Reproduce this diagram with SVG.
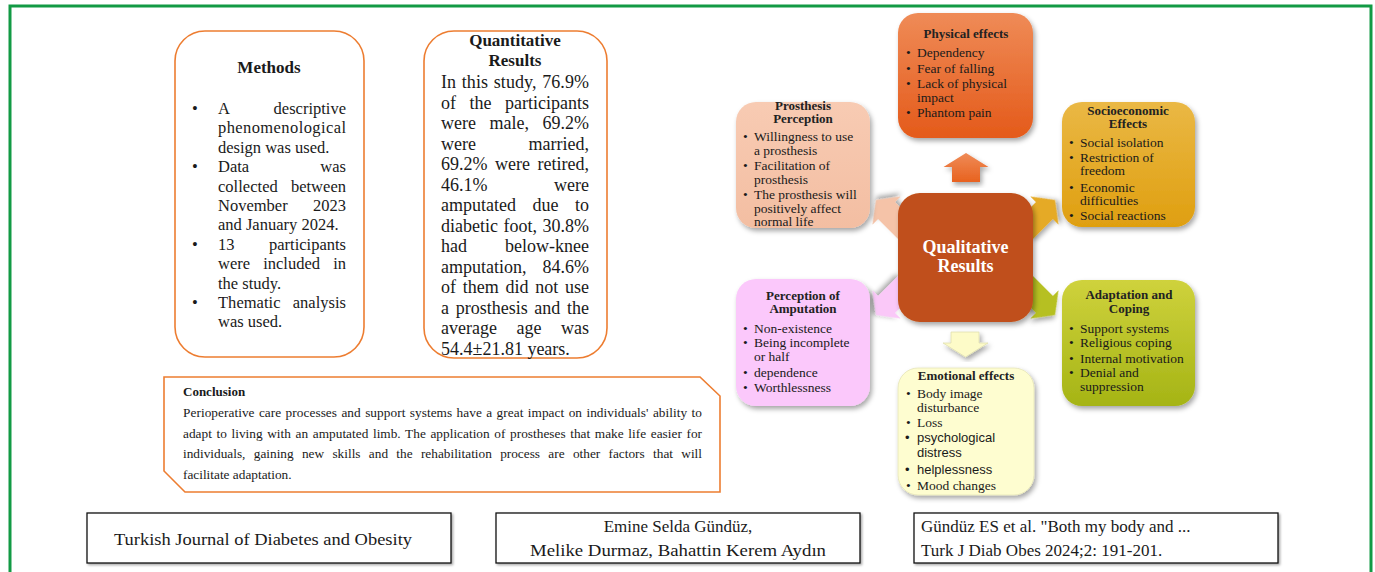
<svg xmlns="http://www.w3.org/2000/svg" width="1375" height="572" viewBox="0 0 1375 572">
<defs>
<style>
.serif{font-family:"Liberation Serif","Times New Roman",serif;fill:#1a1a1a}
.sans{font-family:"Liberation Sans",Arial,sans-serif;fill:#1a1a1a}
.m{font-size:16.5px}
.q{font-size:18px}
.qt{font-size:17px;font-weight:bold;text-anchor:middle}
.c{font-size:13.3px}
.ct{font-size:13px;font-weight:bold}
.bt{font-size:13px;font-weight:bold;text-anchor:middle;fill:#222}
.b{font-size:13.5px}
.bs{font-size:13px}
.ob{fill:#fff;stroke:#ed7d31;stroke-width:1.6}
.ft{font-size:17px}
.fbox{fill:#fff;stroke:#111;stroke-width:1.3}
</style>
<filter id="sh" x="-20%" y="-20%" width="140%" height="140%">
<feDropShadow dx="2" dy="3" stdDeviation="2.5" flood-color="#000" flood-opacity="0.35"/>
</filter>
<filter id="sh2" x="-5%" y="-20%" width="110%" height="140%">
<feDropShadow dx="1.5" dy="1.5" stdDeviation="1" flood-color="#000" flood-opacity="0.35"/>
</filter>
<linearGradient id="gPhys" x1="0" y1="0" x2="0" y2="1"><stop offset="0" stop-color="#ef8b57"/><stop offset="1" stop-color="#e45a1a"/></linearGradient>
<linearGradient id="gPros" x1="0" y1="0" x2="0" y2="1"><stop offset="0" stop-color="#f8cbb3"/><stop offset="1" stop-color="#f3bea2"/></linearGradient>
<linearGradient id="gSoc" x1="0" y1="0" x2="0" y2="1"><stop offset="0" stop-color="#eab845"/><stop offset="1" stop-color="#df9f10"/></linearGradient>
<linearGradient id="gAd" x1="0" y1="0" x2="0" y2="1"><stop offset="0" stop-color="#cfd23c"/><stop offset="1" stop-color="#a5b415"/></linearGradient>
<linearGradient id="gUp" x1="0" y1="0" x2="0" y2="1"><stop offset="0" stop-color="#ef8b57"/><stop offset="1" stop-color="#e8621f"/></linearGradient>
<path id="darr" d="M0,0 L-15,-20 L-15,-12 L-45,-12 L-45,12 L-15,12 L-15,20 Z"/>
</defs>

<rect x="10" y="6" width="1361" height="600" fill="#fff" stroke="#129a44" stroke-width="3"/>

<g id="methods">
<rect class="ob" x="175" y="31" width="189" height="326" rx="30"/>
<text class="serif qt" x="269" y="73">Methods</text>
<g class="serif m">
<text x="192" y="114">•</text>
<text x="218" y="114">A</text><text x="346" y="114" text-anchor="end">descriptive</text>
<text x="218" y="133.4" textLength="128" lengthAdjust="spacing">phenomenological</text>
<text x="218" y="152.8">design was used.</text>
<text x="192" y="172.2">•</text>
<text x="218" y="172.2">Data</text><text x="346" y="172.2" text-anchor="end">was</text>
<text x="218" y="191.6" word-spacing="9" textLength="128" lengthAdjust="spacing">collected between</text>
<text x="218" y="211">November</text><text x="346" y="211" text-anchor="end">2023</text>
<text x="218" y="230.4">and January 2024.</text>
<text x="192" y="249.8">•</text>
<text x="218" y="249.8">13</text><text x="346" y="249.8" text-anchor="end">participants</text>
<text x="218" y="269.2" word-spacing="9" textLength="128" lengthAdjust="spacing">were included in</text>
<text x="218" y="288.6">the study.</text>
<text x="192" y="308">•</text>
<text x="218" y="308" word-spacing="8" textLength="128" lengthAdjust="spacing">Thematic analysis</text>
<text x="218" y="327.4">was used.</text>
</g>
</g>

<g id="quantitative">
<rect class="ob" x="424" y="31" width="183" height="327" rx="30"/>
<text class="serif qt" x="515" y="46">Quantitative</text>
<text class="serif qt" x="515" y="66">Results</text>
<g class="serif q">
<text x="441" y="88" word-spacing="1" textLength="148" lengthAdjust="spacing">In this study, 76.9%</text>
<text x="441" y="108.5" word-spacing="9" textLength="148" lengthAdjust="spacing">of the participants</text>
<text x="441" y="129" word-spacing="9" textLength="148" lengthAdjust="spacing">were male, 69.2%</text>
<text x="441" y="149.5">were</text><text x="589" y="149.5" text-anchor="end">married,</text>
<text x="441" y="170" word-spacing="3" textLength="148" lengthAdjust="spacing">69.2% were retired,</text>
<text x="441" y="190.5">46.1%</text><text x="589" y="190.5" text-anchor="end">were</text>
<text x="441" y="211" word-spacing="12" textLength="148" lengthAdjust="spacing">amputated due to</text>
<text x="441" y="231.5" word-spacing="1" textLength="148" lengthAdjust="spacing">diabetic foot, 30.8%</text>
<text x="441" y="252">had</text><text x="589" y="252" text-anchor="end">below-knee</text>
<text x="441" y="272.5">amputation,</text><text x="589" y="272.5" text-anchor="end">84.6%</text>
<text x="441" y="293" word-spacing="2.2" textLength="148" lengthAdjust="spacing">of them did not use</text>
<text x="441" y="313.5" word-spacing="2.2" textLength="148" lengthAdjust="spacing">a prosthesis and the</text>
<text x="441" y="334" word-spacing="15" textLength="148" lengthAdjust="spacing">average age was</text>
<text x="441" y="354.5">54.4±21.81 years.</text>
</g>
</g>

<g id="conclusion">
<polygon class="ob" points="164,377 700,377 720,396 720,492 185,492 164,471"/>
<text class="serif ct" x="183" y="396">Conclusion</text>
<g class="serif c">
<text x="183" y="417" word-spacing="1" textLength="519" lengthAdjust="spacing">Perioperative care processes and support systems have a great impact on individuals' ability to</text>
<text x="183" y="437.5" word-spacing="1.3" textLength="519" lengthAdjust="spacing">adapt to living with an amputated limb. The application of prostheses that make life easier for</text>
<text x="183" y="458" word-spacing="5" textLength="519" lengthAdjust="spacing">individuals, gaining new skills and the rehabilitation process are other factors that will</text>
<text x="183" y="478.5">facilitate adaptation.</text>
</g>
</g>

<g id="connectors">
<path d="M966,153 L988.5,167 L980,167 L980,182 L952,182 L952,167 L943.5,167 Z" fill="url(#gUp)" filter="url(#sh)"/>
<path d="M951,332 L979,332 L979,343 L988,343 L965.5,357 L943,343 L951,343 Z" fill="#fdfbc8" stroke="#e0dfb0" stroke-width="0.8" filter="url(#sh)"/>
<use href="#darr" transform="translate(876,200) rotate(-135)" fill="#f5c3a8" filter="url(#sh)"/>
<use href="#darr" transform="translate(1055,200) rotate(-45)" fill="#e5aa25" filter="url(#sh)"/>
<use href="#darr" transform="translate(876,315) rotate(135)" fill="#fac8f8" filter="url(#sh)"/>
<use href="#darr" transform="translate(1055,315) rotate(45)" fill="#b6c020" filter="url(#sh)"/>
</g>

<g id="qualitative">
<rect x="898" y="193" width="135" height="129" rx="22" fill="#c0501a" filter="url(#sh)"/>
<text class="serif" x="965.5" y="253" font-size="18" font-weight="bold" text-anchor="middle" style="fill:#fff">Qualitative</text>
<text class="serif" x="965.5" y="272" font-size="18" font-weight="bold" text-anchor="middle" style="fill:#fff">Results</text>
</g>

<g id="physical">
<rect x="898" y="13" width="135" height="125" rx="20" fill="url(#gPhys)" filter="url(#sh)"/>
<text class="serif bt" x="966" y="38">Physical effects</text>
<g class="serif b">
<text x="906" y="57">•</text><text x="917" y="57">Dependency</text>
<text x="906" y="73">•</text><text x="917" y="73">Fear of falling</text>
<text x="906" y="88">•</text><text x="917" y="88">Lack of physical</text>
<text x="917" y="102">impact</text>
<text x="906" y="117">•</text><text x="917" y="117">Phantom pain</text>
</g>
</g>

<g id="prosthesis">
<rect x="736" y="102" width="134" height="126" rx="20" fill="url(#gPros)" filter="url(#sh)"/>
<text class="serif bt" x="803" y="110">Prosthesis</text>
<text class="serif bt" x="803" y="123">Perception</text>
<g class="serif b">
<text x="743" y="141">•</text><text x="754" y="141">Willingness to use</text>
<text x="754" y="155">a prosthesis</text>
<text x="743" y="170">•</text><text x="754" y="170">Facilitation of</text>
<text x="754" y="184">prosthesis</text>
<text x="743" y="199">•</text><text x="754" y="199">The prosthesis will</text>
<text x="754" y="213">positively affect</text>
<text x="754" y="226">normal life</text>
</g>
</g>

<g id="socioeconomic">
<rect x="1062" y="102" width="133" height="125" rx="20" fill="url(#gSoc)" filter="url(#sh)"/>
<text class="serif bt" x="1128" y="115">Socioeconomic</text>
<text class="serif bt" x="1128" y="128">Effects</text>
<g class="serif b">
<text x="1069" y="147">•</text><text x="1080" y="147">Social isolation</text>
<text x="1069" y="162">•</text><text x="1080" y="162">Restriction of</text>
<text x="1080" y="175">freedom</text>
<text x="1069" y="192">•</text><text x="1080" y="192">Economic</text>
<text x="1080" y="205">difficulties</text>
<text x="1069" y="220">•</text><text x="1080" y="220">Social reactions</text>
</g>
</g>

<g id="perception">
<rect x="736" y="279" width="134" height="127" rx="20" fill="#fbc8fb" filter="url(#sh)"/>
<text class="serif bt" x="803" y="300">Perception of</text>
<text class="serif bt" x="803" y="313">Amputation</text>
<g class="serif b">
<text x="743" y="333">•</text><text x="754" y="333">Non-existence</text>
<text x="743" y="347">•</text><text x="754" y="347">Being incomplete</text>
<text x="754" y="361">or half</text>
<text x="743" y="377">•</text><text x="754" y="377">dependence</text>
<text x="743" y="392">•</text><text x="754" y="392">Worthlessness</text>
</g>
</g>

<g id="adaptation">
<rect x="1062" y="280" width="133" height="126" rx="20" fill="url(#gAd)" filter="url(#sh)"/>
<text class="serif bt" x="1129" y="299">Adaptation and</text>
<text class="serif bt" x="1129" y="313">Coping</text>
<g class="serif b">
<text x="1069" y="333">•</text><text x="1080" y="333">Support systems</text>
<text x="1069" y="347">•</text><text x="1080" y="347">Religious coping</text>
<text x="1069" y="363">•</text><text x="1080" y="363">Internal motivation</text>
<text x="1069" y="377">•</text><text x="1080" y="377">Denial and</text>
<text x="1080" y="391">suppression</text>
</g>
</g>

<g id="emotional">
<rect x="898" y="368" width="136" height="127" rx="20" fill="#fefdd0" stroke="#e6e4b8" stroke-width="0.8" filter="url(#sh)"/>
<text class="serif bt" x="966" y="380">Emotional effects</text>
<g class="serif b">
<text x="906" y="398">•</text><text x="917" y="398">Body image</text>
<text x="917" y="412">disturbance</text>
<text x="906" y="427">•</text><text x="917" y="427">Loss</text>
<text x="906" y="490">•</text><text x="917" y="490">Mood changes</text>
</g>
<g class="sans bs">
<text x="905" y="442">•</text><text x="917" y="442">psychological</text>
<text x="917" y="457">distress</text>
<text x="905" y="474">•</text><text x="917" y="474">helplessness</text>
</g>
</g>

<g id="journal">
<rect class="fbox" x="87" y="513" width="364" height="50" filter="url(#sh2)"/>
<text class="serif ft" x="263" y="545" text-anchor="middle" textLength="298" lengthAdjust="spacingAndGlyphs">Turkish Journal of Diabetes and Obesity</text>
</g>
<g id="authors">
<rect class="fbox" x="496" y="513" width="364" height="50" filter="url(#sh2)"/>
<text class="serif ft" x="678" y="532" text-anchor="middle">Emine Selda Gündüz,</text>
<text class="serif ft" x="678" y="556" text-anchor="middle" textLength="296" lengthAdjust="spacingAndGlyphs">Melike Durmaz, Bahattin Kerem Aydın</text>
</g>
<g id="citation">
<rect class="fbox" x="914" y="513" width="364" height="50" filter="url(#sh2)"/>
<text class="serif ft" x="921" y="532">Gündüz ES et al. "Both my body and ...</text>
<text class="serif ft" x="921" y="556">Turk J Diab Obes 2024;2: 191-201.</text>
</g>
</svg>
